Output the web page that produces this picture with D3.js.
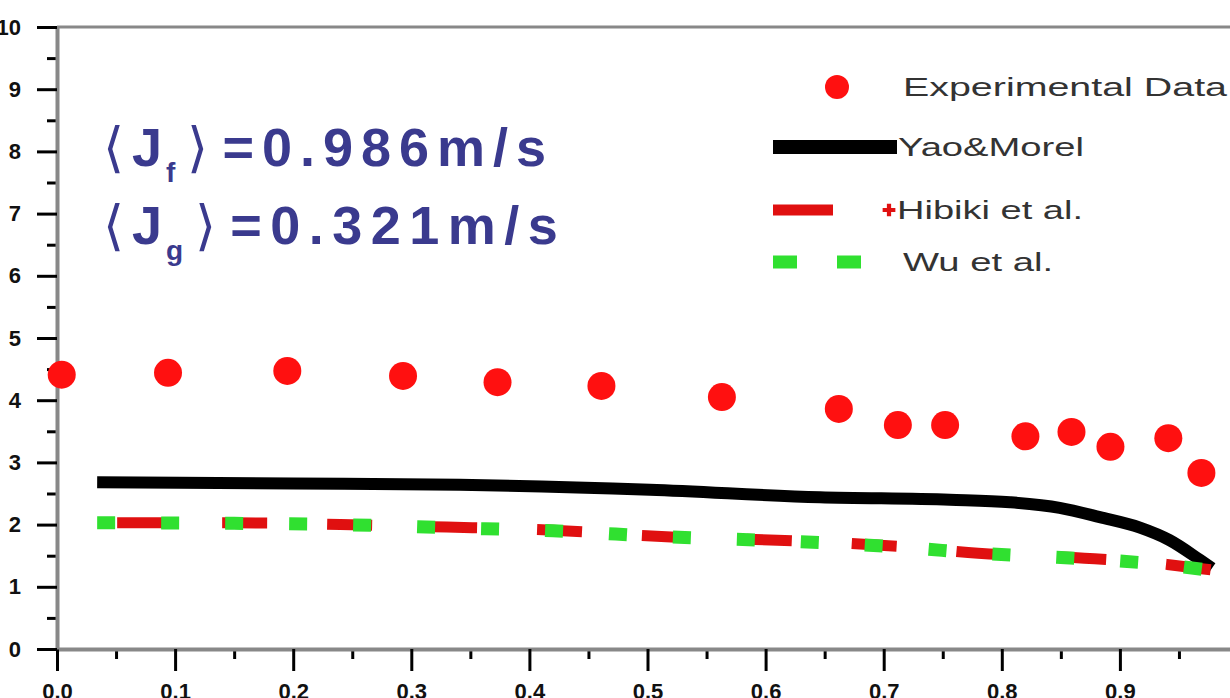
<!DOCTYPE html>
<html>
<head>
<meta charset="utf-8">
<script src="https://cdn.jsdelivr.net/npm/d3@7"></script>
<style>
  html, body { margin: 0; padding: 0; background: #fff; }
  svg { display: block; }
</style>
</head>
<body>
<svg id="chart" width="1230" height="698"></svg>
<script>
// --- data ---
const expX = [0.004, 0.094, 0.195, 0.293, 0.373, 0.461, 0.563, 0.662, 0.712, 0.752, 0.820, 0.859, 0.892, 0.941, 0.969]
const expY = [4.41, 4.44, 4.47, 4.39, 4.29, 4.23, 4.05, 3.86, 3.60, 3.60, 3.42, 3.49, 3.25, 3.39, 2.83]

const yaoX = [0.034, 0.20, 0.341, 0.502, 0.646, 0.756, 0.807, 0.849, 0.883, 0.917, 0.942, 0.968, 0.978]
const yaoY = [2.68, 2.66, 2.64, 2.56, 2.44, 2.40, 2.36, 2.27, 2.12, 1.95, 1.75, 1.43, 1.30]

const hibikiX = [0.034, 0.15, 0.24, 0.33, 0.42, 0.52, 0.61, 0.72, 0.78, 0.87, 0.94, 0.978]
const hibikiY = [2.03, 2.03, 2.00, 1.96, 1.91, 1.80, 1.75, 1.64, 1.54, 1.46, 1.36, 1.27]

const wuX = [0.034, 0.15, 0.24, 0.33, 0.42, 0.52, 0.61, 0.72, 0.78, 0.87, 0.94, 0.978]
const wuY = [2.03, 2.02, 2.00, 1.95, 1.90, 1.80, 1.74, 1.63, 1.54, 1.45, 1.35, 1.26]

const xTicks = [0, 0.1, 0.2, 0.3, 0.4, 0.5, 0.6, 0.7, 0.8, 0.9, 1.0]
const xMinor = [0.05, 0.15, 0.25, 0.35, 0.45, 0.55, 0.65, 0.75, 0.85, 0.95]
const yTicks = [0, 1, 2, 3, 4, 5, 6, 7, 8, 9, 10]
const yMinor = [0.5, 1.5, 2.5, 3.5, 4.5, 5.5, 6.5, 7.5, 8.5, 9.5]

const legendLabels = ['Experimental Data', 'Yao&Morel', 'Hibiki et al.', 'Wu et al.']

const COLORS = { exp: '#ff1010', yao: '#000000', hibiki: '#e01010', wu: '#30e030', note: '#3a3a8e' }
const FONT = 'Arial, "Liberation Sans", sans-serif'

const svg = d3.select('#chart')

const x = d3.scaleLinear().domain([0, 1]).range([57, 1238])
const y = d3.scaleLinear().domain([0, 10]).range([649, 27])

// 枠線
svg.append('line')
  .attr('x1', x(0)).attr('x2', 1230)
  .attr('y1', y(10)).attr('y2', y(10))
  .attr('stroke', '#888').attr('stroke-width', 3)

// 軸
function styleAxis(g, color) {
  g.select('.domain').attr('stroke', color).attr('stroke-width', 4)
  g.selectAll('.tick line').attr('stroke', '#000').attr('stroke-width', 3)
  g.selectAll('.tick text')
    .attr('fill', '#111')
    .attr('font-family', FONT)
    .attr('font-size', 22)
    .attr('font-weight', 'bold')
}

const xAxisMinor = svg.append('g')
  .attr('transform', `translate(0,${y(0)})`)
  .call(d3.axisBottom(x).tickValues(xMinor).tickSize(10).tickFormat(''))
xAxisMinor.select('.domain').remove()
xAxisMinor.selectAll('.tick line').attr('stroke', '#000').attr('stroke-width', 3)

const xAxis = svg.append('g')
  .attr('transform', `translate(0,${y(0)})`)
  .call(d3.axisBottom(x).tickValues(xTicks).tickSize(22).tickSizeOuter(0).tickPadding(12).tickFormat(d3.format('.1f')))
styleAxis(xAxis, '#888')
xAxis.selectAll('.tick text').text(d => (d === 1 ? '1' : d3.format('.1f')(d)))

const yAxisMinor = svg.append('g')
  .attr('transform', `translate(${x(0)},0)`)
  .call(d3.axisLeft(y).tickValues(yMinor).tickSize(10).tickFormat(''))
yAxisMinor.select('.domain').remove()
yAxisMinor.selectAll('.tick line').attr('stroke', '#000').attr('stroke-width', 3)

const yAxis = svg.append('g')
  .attr('transform', `translate(${x(0)},0)`)
  .call(d3.axisLeft(y).tickValues(yTicks).tickSize(20).tickSizeOuter(0).tickPadding(16).tickFormat(d3.format('d')))
styleAxis(yAxis, '#888')

// 曲線
const lineGen = d3.line().x(d => x(d[0])).y(d => y(d[1])).curve(d3.curveMonotoneX)

const yao = yaoX.map((v, i) => [v, yaoY[i]])
const hibiki = hibikiX.map((v, i) => [v, hibikiY[i]])
const wu = wuX.map((v, i) => [v, wuY[i]])

svg.append('path')
  .datum(yao)
  .attr('d', lineGen)
  .attr('fill', 'none')
  .attr('stroke', COLORS.yao)
  .attr('stroke-width', 12)

svg.append('path')
  .datum(hibiki)
  .attr('d', lineGen)
  .attr('fill', 'none')
  .attr('stroke', COLORS.hibiki)
  .attr('stroke-width', 11)
  .attr('stroke-dasharray', '45,60')
  .attr('stroke-dashoffset', 85)

svg.append('path')
  .datum(wu)
  .attr('d', lineGen)
  .attr('fill', 'none')
  .attr('stroke', COLORS.wu)
  .attr('stroke-width', 13)
  .attr('stroke-dasharray', '18,46')

// 実験データ
svg.append('g')
  .selectAll('circle')
  .data(expX.map((v, i) => [v, expY[i]]))
  .enter()
  .append('circle')
  .attr('cx', d => x(d[0]))
  .attr('cy', d => y(d[1]))
  .attr('r', 14)
  .attr('fill', COLORS.exp)

// 注記
const note = svg.append('g')
  .attr('font-family', FONT)
  .attr('font-size', 54)
  .attr('font-weight', 'bold')
  .attr('fill', COLORS.note)

function noteLine(ypos, sub, value, spacing) {
  const t = note.append('text').attr('x', 103).attr('y', ypos)
  t.append('tspan').attr('font-weight', 'normal').attr('font-size', 54).text('\u27E8')
  t.append('tspan').attr('dx', 8).text('J')
  t.append('tspan').attr('font-size', 28).attr('dx', 4).attr('dy', 16).text(sub)
  t.append('tspan').attr('font-weight', 'normal').attr('font-size', 54).attr('dx', 12).attr('dy', -16).text('\u27E9')
  t.append('tspan').attr('dx', 14).attr('letter-spacing', spacing).text(value)
}
noteLine(166, 'f', '=0.986m/s', 8)
noteLine(244, 'g', '=0.321m/s', 8.5)

// 凡例
const legend = svg.append('g')
  .attr('font-family', FONT)
  .attr('font-size', 26)
  .attr('fill', '#333')

const legendY = [87, 147, 210, 262]

legend.append('circle').attr('cx', 837).attr('cy', legendY[0]).attr('r', 12).attr('fill', COLORS.exp)
legend.append('line')
  .attr('x1', 773).attr('x2', 897).attr('y1', legendY[1]).attr('y2', legendY[1])
  .attr('stroke', COLORS.yao).attr('stroke-width', 14)
legend.append('line')
  .attr('x1', 773).attr('x2', 833).attr('y1', legendY[2]).attr('y2', legendY[2])
  .attr('stroke', COLORS.hibiki).attr('stroke-width', 11)
legend.append('path')
  .attr('transform', `translate(889,${legendY[2]})`)
  .attr('d', d3.symbol(d3.symbolCross, 90)())
  .attr('fill', COLORS.hibiki)
legend.append('line')
  .attr('x1', 773).attr('x2', 867).attr('y1', legendY[3]).attr('y2', legendY[3])
  .attr('stroke', COLORS.wu).attr('stroke-width', 13)
  .attr('stroke-dasharray', '24,40')

const legendTextX = [903, 898, 897, 903]
const legendTextLen = [324, 186, 186, 150]
legendLabels.forEach((label, i) => {
  legend.append('text')
    .attr('x', legendTextX[i])
    .attr('y', legendY[i])
    .attr('dy', '0.35em')
    .attr('textLength', legendTextLen[i])
    .attr('lengthAdjust', 'spacingAndGlyphs')
    .text(label)
})
</script>
</body>
</html>
